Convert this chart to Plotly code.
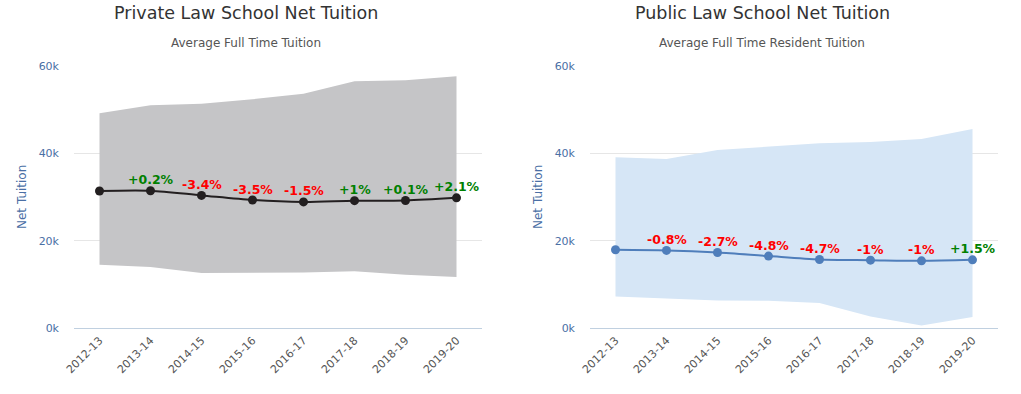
import plotly.graph_objects as go

years = ["2012-13", "2013-14", "2014-15", "2015-16", "2016-17", "2017-18", "2018-19", "2019-20"]

# Private law schools
private_mean = [31380, 31440, 30370, 29310, 28870, 29160, 29190, 29800]
private_high = [49180, 51000, 51370, 52380, 53660, 56500, 56720, 57640]
private_low = [14480, 13950, 12580, 12580, 12700, 13000, 12190, 11660]
private_change = ["", "+0.2%", "-3.4%", "-3.5%", "-1.5%", "+1%", "+0.1%", "+2.1%"]

# Public law schools
public_mean = [17910, 17770, 17290, 16460, 15690, 15530, 15380, 15610]
public_high = [39110, 38720, 40780, 41540, 42310, 42610, 43300, 45570]
public_low = [7230, 6860, 6320, 6250, 5720, 2650, 600, 2510]
public_change = ["", "-0.8%", "-2.7%", "-4.8%", "-4.7%", "-1%", "-1%", "+1.5%"]

titles = ["Private Law School Net Tuition", "Public Law School Net Tuition"]
subtitles = ["Average Full Time Tuition", "Average Full Time Resident Tuition"]

FONT = "DejaVu Sans"
W, H = 1021, 394

def chg_color(s):
    return "#008000" if s.startswith("+") else "#ff0000"

fig = go.Figure()

panels = [
    dict(mean=private_mean, high=private_high, low=private_low, chg=private_change,
         band="#c5c5c7", line="#231f20", xa="x", ya="y"),
    dict(mean=public_mean, high=public_high, low=public_low, chg=public_change,
         band="#d6e6f6", line="#4f7ebb", xa="x2", ya="y2"),
]

for p in panels:
    fig.add_trace(go.Scatter(x=years, y=p["low"], mode="lines", line=dict(width=0, color=p["band"]),
                             xaxis=p["xa"], yaxis=p["ya"], showlegend=False, hoverinfo="skip"))
    fig.add_trace(go.Scatter(x=years, y=p["high"], mode="lines", line=dict(width=0, color=p["band"]),
                             fill="tonexty", fillcolor=p["band"],
                             xaxis=p["xa"], yaxis=p["ya"], showlegend=False, hoverinfo="skip"))
    fig.add_trace(go.Scatter(x=years, y=p["mean"], mode="lines+markers",
                             line=dict(color=p["line"], width=2, shape="spline", smoothing=0.8),
                             marker=dict(color=p["line"], size=9),
                             xaxis=p["xa"], yaxis=p["ya"], showlegend=False))
    for yr, v, s in zip(years, p["mean"], p["chg"]):
        if s:
            fig.add_annotation(x=yr, y=v, xref=p["xa"], yref=p["ya"], text=s, showarrow=False,
                               yanchor="middle", yshift=11,
                               font=dict(family=FONT, size=12.5, color=chg_color(s), weight="bold"))

xdoms = [[74 / W, 482 / W], [590 / W, 998 / W]]
common_x = dict(type="category", range=[-0.5, 7.5], tickangle=-45, showgrid=False, zeroline=False,
                showline=False, ticks="", automargin=False, ticklabelstandoff=3,
                tickfont=dict(family=FONT, size=11, color="#555555"))
common_y = dict(range=[0, 60000], tickvals=[0, 20000, 40000, 60000], ticktext=["0k", "20k", "40k", "60k"],
                showgrid=True, gridcolor="#e6e6e6", gridwidth=1, zeroline=True, zerolinecolor="#c0d0e0",
                zerolinewidth=1, showline=False, ticks="", ticklabelstandoff=14, automargin=False,
                tickfont=dict(family=FONT, size=11, color="#4a6fa5"))

TOP = 66
BOT = 328
fig.update_layout(
    width=W, height=H,
    margin=dict(l=0, r=0, t=TOP, b=H - BOT),
    paper_bgcolor="white", plot_bgcolor="white",
    font=dict(family=FONT),
    xaxis=dict(domain=xdoms[0], anchor="y", **common_x),
    yaxis=dict(domain=[0, 1], anchor="x", **common_y),
    xaxis2=dict(domain=xdoms[1], anchor="y2", **common_x),
    yaxis2=dict(domain=[0, 1], anchor="x2", **common_y),
)

plot_h = BOT - TOP
def py(pix):
    return (BOT - pix) / plot_h

def px(pix):
    return pix / W

centers = [246, 762]
ytitle_x = [22, 538]
for i in range(2):
    fig.add_annotation(text=titles[i], xref="paper", yref="paper", x=px(centers[i]), y=py(13),
                       yanchor="middle", xanchor="center", showarrow=False,
                       font=dict(family=FONT, size=17.5, color="#333333"))
    fig.add_annotation(text=subtitles[i], xref="paper", yref="paper", x=px(centers[i]), y=py(43),
                       yanchor="middle", xanchor="center", showarrow=False,
                       font=dict(family=FONT, size=12, color="#555555"))
    fig.add_annotation(text="Net Tuition", xref="paper", yref="paper", x=px(ytitle_x[i]), y=py(197),
                       yanchor="middle", xanchor="center", showarrow=False, textangle=-90,
                       font=dict(family=FONT, size=12, color="#4a6fa5"))

fig.write_html("out.html", config={"displayModeBar": False},
               post_script="document.body.style.margin='0';")
